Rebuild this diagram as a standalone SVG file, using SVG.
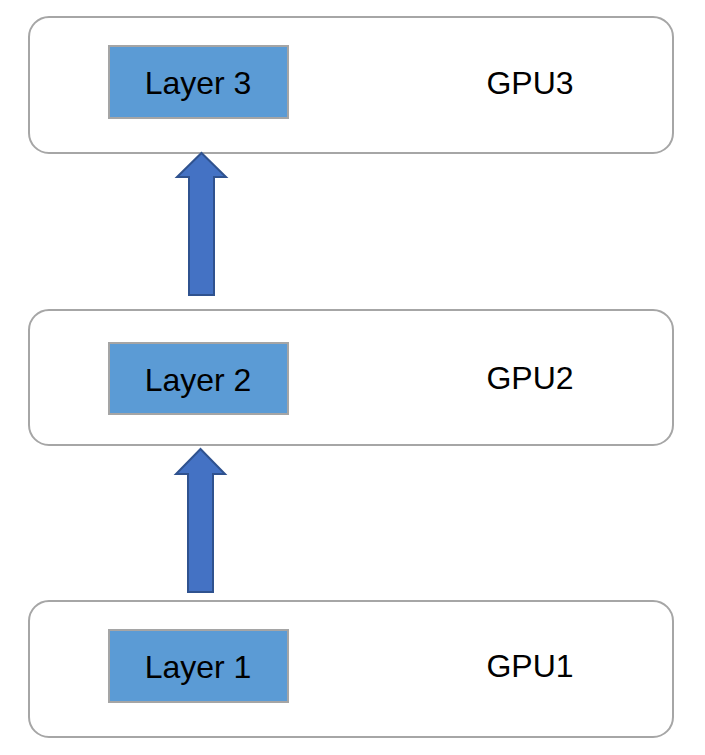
<svg xmlns="http://www.w3.org/2000/svg" width="705" height="755" viewBox="0 0 705 755">
<style>
.gpu{fill:#fff;stroke:#a6a6a6;stroke-width:2}
.layer{fill:#5b9bd5;stroke:#a5a5a5;stroke-width:2}
.t{font-family:"Liberation Sans",Arial,sans-serif;font-size:32px;fill:#000;text-anchor:middle}
.arr{fill:#4472c4;stroke:#2f528f;stroke-width:2}
</style>
<rect width="705" height="755" fill="#fff"/>
<g id="gpu3">
<rect class="gpu" x="29" y="17" width="644" height="136" rx="20"/>
<rect class="layer" x="109" y="46" width="179" height="72"/>
<text class="t" x="198" y="94">Layer 3</text>
<text class="t" x="530" y="94">GPU3</text>
</g>
<g id="gpu2">
<rect class="gpu" x="29" y="310" width="644" height="135" rx="20"/>
<rect class="layer" x="109" y="343" width="179" height="71"/>
<text class="t" x="198" y="391">Layer 2</text>
<text class="t" x="530" y="389">GPU2</text>
</g>
<g id="gpu1">
<rect class="gpu" x="29" y="601" width="644" height="136" rx="20"/>
<rect class="layer" x="109" y="630" width="179" height="72"/>
<text class="t" x="198" y="678">Layer 1</text>
<text class="t" x="530" y="677">GPU1</text>
</g>
<g id="connectors">
<polygon class="arr" points="201.5,153 226,177 214,177 214,295 189,295 189,177 177,177"/>
<polygon class="arr" points="200.5,449 225,474 213,474 213,592 188,592 188,474 176,474"/>
</g>
</svg>
